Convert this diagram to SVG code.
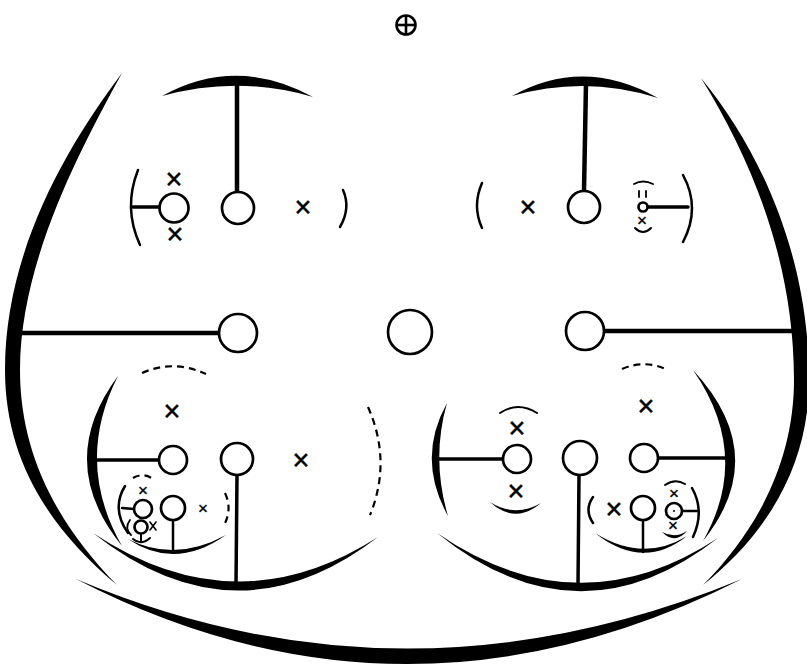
<svg xmlns="http://www.w3.org/2000/svg" width="807" height="671" viewBox="0 0 807 671">
<style>
.cr{fill:#000;stroke:none}
.ln{stroke:#000;fill:none;stroke-linecap:round}
.th{stroke-width:4.5}
.md{stroke-width:3.5}
.tn{stroke-width:2.5}
.ds{stroke:#000;fill:none;stroke-width:2.2;stroke-dasharray:7 5}
.nd{fill:#fff;stroke:#000;stroke-width:2.7}
.x{font-family:"Liberation Sans",Arial,sans-serif;font-size:29px;text-anchor:middle;dominant-baseline:central;fill:#000;stroke:#000;stroke-width:0.5}
.xs{font-family:"Liberation Sans",Arial,sans-serif;font-size:17px;text-anchor:middle;dominant-baseline:central;fill:#000;stroke:#000;stroke-width:0.4}
</style>
<rect width="807" height="671" fill="#fff"/>

<g id="symbol">
<circle cx="406" cy="25" r="9.5" fill="none" stroke="#000" stroke-width="2.6"/>
<line x1="406" y1="15" x2="406" y2="35" stroke="#000" stroke-width="2.6"/>
<line x1="396" y1="25" x2="416" y2="25" stroke="#000" stroke-width="2.6"/>
</g>

<g id="frame">
<path class="cr" d="M122 73 C68 145 5 250 5 370 C5 455 45 525 117 585 C58 525 20 455 20 370 C20 262 80 150 122 73 Z"/>
<path class="cr" d="M701 78 C760 150 809 255 809 380 C809 460 772 530 703 585 C758 530 794 460 794 380 C794 262 752 160 701 78 Z"/>
<path class="cr" d="M76 579 Q405 749 742 579 Q405 718 76 579 Z"/>
<path class="cr" d="M162 96 Q236 55 313 97 Q238 75 162 96 Z"/>
<path class="cr" d="M512 96 Q583 56 658 98 Q585 75 512 96 Z"/>
<path class="cr" d="M93 533 Q236 646 378 537 Q236 628 93 533 Z"/>
<path class="cr" d="M437 533 Q578 647 718 538 Q578 630 437 533 Z"/>
<path class="cr" d="M118 376 Q54 462 122 546 Q74 462 118 376 Z"/>
<path class="cr" d="M447 403 Q416 459 448 516 Q431 459 447 403 Z"/>
<path class="cr" d="M693 370 Q772 455 703 541 Q752 455 693 370 Z"/>
<path class="cr" d="M128 539 Q175 571 226 535 Q175 563 128 539 Z"/>
<path class="cr" d="M595 533 Q643 571 687 536 Q643 563 595 533 Z"/>
<path class="cr" d="M490 502 Q515 525 541 503 Q515 518 490 502 Z"/>
<path class="cr" d="M662 532 Q675 545 687 531 Q675 539 662 532 Z"/>
<path class="ln tn" d="M138 170 Q123 208 140 245"/>
<path class="ln tn" d="M343 190 Q351 208 340 227"/>
<path class="ln tn" d="M482 183 Q472 206 482 228"/>
<path class="ln tn" d="M683 175 Q701 208 683 242"/>
<path class="ds" d="M142 373 Q173 359 206 374"/>
<path class="ds" d="M368 407 Q392 461 370 515" stroke-dasharray="10 7"/>
<path class="ds" d="M622 369 Q645 359 668 370"/>
<path class="ln tn" d="M125 486 Q111 509 128 533"/>
<path class="ds" d="M133 478 Q143 472 153 479" stroke-dasharray="2.5 2" stroke-width="2"/>
<path class="ds" d="M225 493 Q233 510 223 527" stroke-dasharray="5 3"/>
<path class="ln" stroke-width="2" d="M500 413 Q518 401 537 413"/>
<path class="ln tn" d="M593 497 Q584 510 593 523"/>
<path class="ln" stroke-width="2" d="M665 485 Q675 478 685 484"/>
<path class="ln tn" d="M692 488 Q705 511 693 537"/>
<path class="ln" stroke-width="1.8" d="M634 184 Q643 179 653 184"/>
<line class="ln" stroke-width="1.8" x1="639" y1="191" x2="639" y2="197"/>
<line class="ln" stroke-width="1.8" x1="646" y1="191" x2="646" y2="197"/>
<path class="ln" stroke-width="2" d="M635 228 Q643 236 651 228"/>
</g>

<g id="connectors">
<line class="ln th" x1="237" y1="80" x2="237" y2="192"/>
<line class="ln th" x1="586" y1="83" x2="584" y2="191"/>
<line class="ln md" x1="133" y1="207" x2="159" y2="207"/>
<line class="ln md" x1="648" y1="207" x2="688" y2="207"/>
<line class="ln th" x1="22" y1="333" x2="219" y2="333"/>
<line class="ln th" x1="604" y1="331" x2="796" y2="331"/>
<line class="ln md" x1="93" y1="460" x2="159" y2="460"/>
<line class="ln md" x1="237" y1="475" x2="236" y2="585"/>
<line class="ln tn" x1="122" y1="508" x2="134" y2="509"/>
<line class="ln tn" x1="173" y1="520" x2="173" y2="552"/>
<line class="ln md" x1="438" y1="459" x2="503" y2="459"/>
<line class="ln md" x1="579" y1="475" x2="578" y2="585"/>
<line class="ln md" x1="658" y1="458" x2="726" y2="458"/>
<line class="ln tn" x1="643" y1="520" x2="643" y2="552"/>
<line class="ln tn" x1="682" y1="511" x2="698" y2="511"/>
</g>

<g id="node-ul-a"><circle class="nd" cx="174" cy="208" r="14.5"/></g>
<g id="node-ul-b"><circle class="nd" cx="238" cy="208" r="16"/></g>
<g id="node-ur-a"><circle class="nd" cx="584" cy="207" r="16"/></g>
<g id="node-ur-b"><circle class="nd" cx="643" cy="207" r="4.5" stroke-width="2"/></g>
<g id="node-ml"><circle class="nd" cx="238" cy="333" r="19"/></g>
<g id="node-c"><circle class="nd" cx="410" cy="332" r="22"/></g>
<g id="node-mr"><circle class="nd" cx="585" cy="331" r="19"/></g>
<g id="node-ll-a"><circle class="nd" cx="173" cy="460" r="14"/></g>
<g id="node-ll-b"><circle class="nd" cx="237" cy="459" r="16"/></g>
<g id="node-ll-c"><circle class="nd" cx="143" cy="509" r="9"/></g>
<g id="node-ll-d"><circle class="nd" cx="173" cy="508" r="12"/></g>
<g id="node-ll-e">
<circle class="nd" cx="141" cy="527" r="6.5" stroke-width="2.2"/>
<path class="ln" stroke-width="1.8" d="M130 520 Q124 528 131 535 M131 535 L128 531"/>
<path class="ln" stroke-width="1.6" d="M150 522 L156 530 M156 522 L150 530"/>
<line class="ln" stroke-width="2" x1="141" y1="534" x2="141" y2="541"/>
<path class="ln" stroke-width="2" d="M133 539 Q141 546 150 538"/>
</g>
<g id="node-lr-a"><circle class="nd" cx="517" cy="459" r="14"/></g>
<g id="node-lr-b"><circle class="nd" cx="580" cy="458" r="17"/></g>
<g id="node-lr-c"><circle class="nd" cx="644" cy="458" r="14"/></g>
<g id="node-lr-d"><circle class="nd" cx="643" cy="508" r="12"/></g>
<g id="node-lr-e"><circle class="nd" cx="674" cy="511" r="8"/><circle cx="674" cy="511" r="1" fill="#000"/></g>

<g id="marks">
<text class="x" x="174" y="179">×</text>
<text class="x" x="175" y="234">×</text>
<text class="x" x="303" y="207">×</text>
<text class="x" x="528" y="207">×</text>
<text class="xs" x="642" y="220">×</text>
<text class="x" x="172" y="411">×</text>
<text class="x" x="301" y="460">×</text>
<text class="xs" x="143" y="490">×</text>
<text class="xs" x="203" y="508">×</text>
<text class="x" x="646" y="406">×</text>
<text class="x" x="517" y="428">×</text>
<text class="x" x="516" y="491">×</text>
<text class="x" x="614" y="509">×</text>
<text class="xs" x="674" y="493">×</text>
<text class="xs" x="673" y="525">×</text>
</g>
</svg>
